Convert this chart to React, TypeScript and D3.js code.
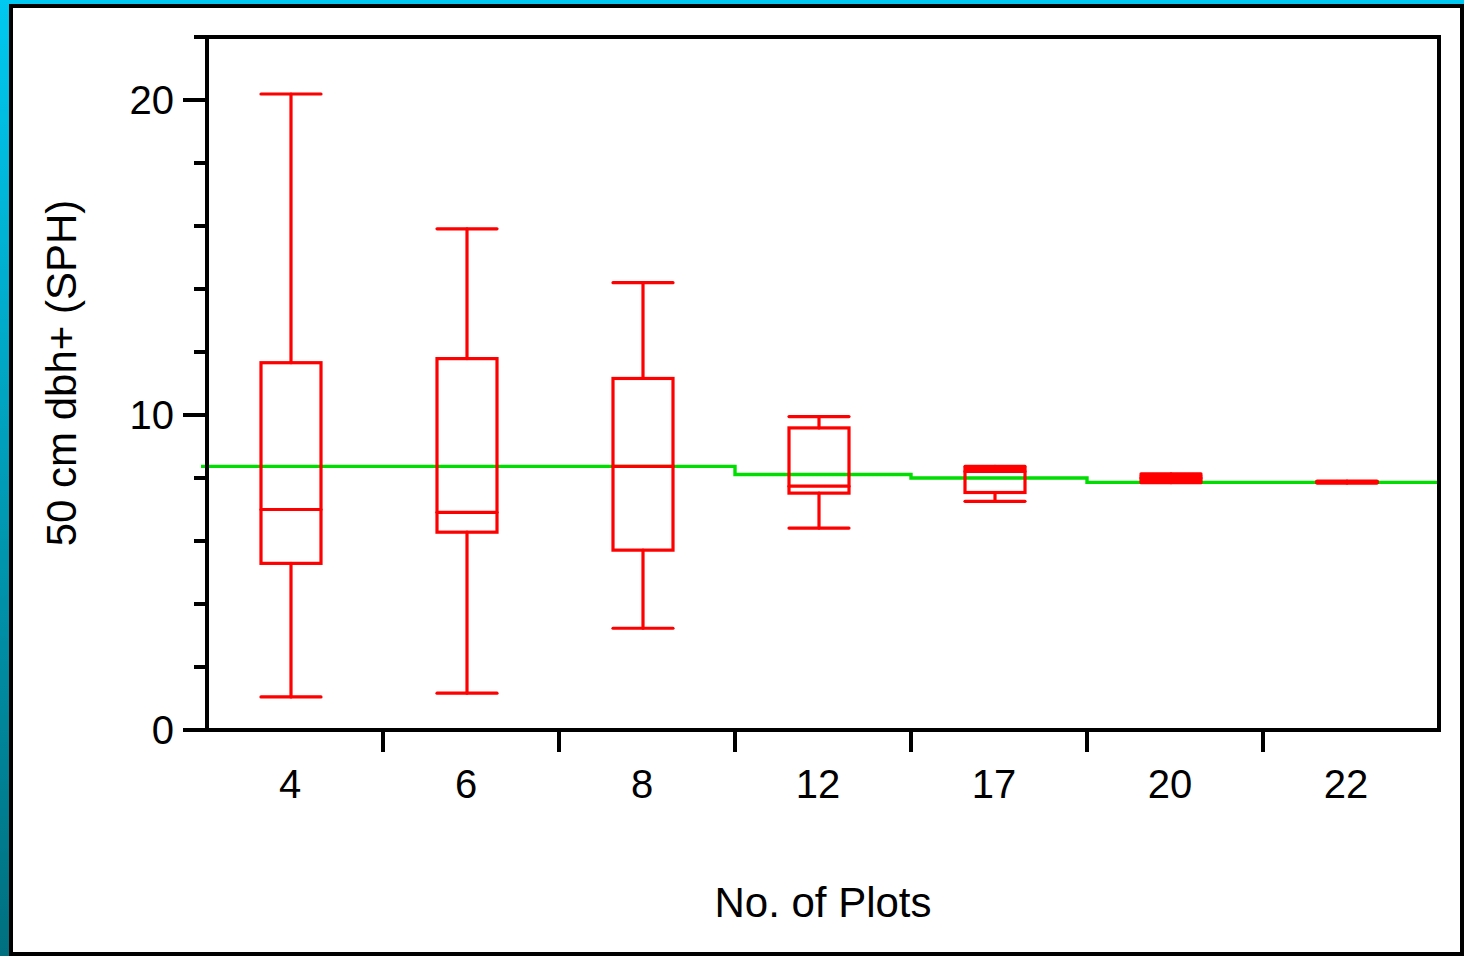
import React, { useEffect, useRef } from 'react';
import * as d3 from 'd3';

// groups on the x axis (number of plots)
const categories = ['4', '6', '8', '12', '17', '20', '22'];

// box statistics per group
const lowerWhisker = [1.05, 1.17, 3.23, 6.41, 7.26, 7.85, 7.84];
const q1Values = [5.29, 6.28, 5.71, 7.52, 7.54, 7.92, 7.86];
const medianValues = [7.0, 6.91, 8.37, 7.74, 8.21, 8.0, 7.87];
const q3Values = [11.66, 11.79, 11.16, 9.59, 8.3, 8.05, 7.88];
const upperWhisker = [20.19, 15.91, 14.2, 9.95, 8.37, 8.13, 7.9];

// green reference line (one level per group)
const meanValues = [8.37, 8.37, 8.37, 8.11, 8.0, 7.86, 7.86];

const yMajorTicks = [0, 10, 20];
const yMinorTicks = [2, 4, 6, 8, 12, 14, 16, 18, 22];

function App() {
  return (
    <div>
      <BoxChart />
    </div>
  );
}

function BoxChart() {
  const ref = useRef(null);

  useEffect(() => {
    if (!ref.current) return;
    document.body.style.margin = '0';
    const width = 1464;
    const height = 956;
    const font = 'Liberation Sans, Arial, sans-serif';

    d3.select(ref.current).select('svg').remove();
    const svg = d3.select(ref.current)
      .append('svg')
      .attr('width', width)
      .attr('height', height)
      .style('display', 'block');

    // blue frame background
    const grad = svg.append('defs').append('linearGradient')
      .attr('id', 'bg').attr('x1', 0).attr('y1', 0).attr('x2', 0).attr('y2', 1);
    grad.append('stop').attr('offset', '0%').attr('stop-color', '#00c8f0');
    grad.append('stop').attr('offset', '100%').attr('stop-color', '#00707f');
    svg.append('rect').attr('width', width).attr('height', height).attr('fill', 'url(#bg)');

    // white panel with black border
    svg.append('rect')
      .attr('x', 11).attr('y', 6).attr('width', 1451).attr('height', 948)
      .attr('fill', '#fff').attr('stroke', '#000').attr('stroke-width', 4);

    const x = d3.scaleBand().domain(categories).range([207, 1439]);
    const y = d3.scaleLinear().domain([0, 22]).range([730, 37]);
    const bw = x.bandwidth();
    const cx = (c) => x(c) + bw / 2 - 4;
    const boxW = 60;

    // green step line
    const pts = categories.map((c, i) => [x(c), y(meanValues[i])]);
    pts[0][0] = x.range()[0] - 6;
    pts.push([x.range()[1] - 2, y(meanValues[meanValues.length - 1])]);
    svg.append('path')
      .attr('d', d3.line().curve(d3.curveStepAfter)(pts))
      .attr('fill', 'none')
      .attr('stroke', '#00dd00')
      .attr('stroke-width', 3.4);

    // boxes
    const red = '#ff0000';
    categories.forEach((c, i) => {
      const g = svg.append('g')
        .attr('stroke', red).attr('stroke-width', 3.2).attr('fill', 'none')
        .attr('stroke-linecap', 'round');
      const xc = cx(c);
      // whiskers
      g.append('line').attr('x1', xc).attr('x2', xc)
        .attr('y1', y(q3Values[i])).attr('y2', y(upperWhisker[i]));
      g.append('line').attr('x1', xc).attr('x2', xc)
        .attr('y1', y(q1Values[i])).attr('y2', y(lowerWhisker[i]));
      // caps
      [upperWhisker[i], lowerWhisker[i]].forEach(v => {
        g.append('line').attr('x1', xc - boxW / 2).attr('x2', xc + boxW / 2)
          .attr('y1', y(v)).attr('y2', y(v));
      });
      // box
      g.append('rect')
        .attr('x', xc - boxW / 2).attr('width', boxW)
        .attr('y', y(q3Values[i]))
        .attr('height', Math.max(0.5, y(q1Values[i]) - y(q3Values[i])))
        .attr('stroke-linecap', 'butt');
      // median
      g.append('line').attr('x1', xc - boxW / 2).attr('x2', xc + boxW / 2)
        .attr('y1', y(medianValues[i])).attr('y2', y(medianValues[i]));
    });

    // frame / axes
    const axis = svg.append('g').attr('stroke', '#000').attr('stroke-width', 4);
    const [x0, x1] = x.range();
    const [yb, yt] = y.range();
    axis.append('line').attr('x1', x0).attr('x2', x0).attr('y1', yt).attr('y2', yb + 2);
    axis.append('line').attr('x1', x1).attr('x2', x1).attr('y1', yt - 2).attr('y2', yb + 2);
    axis.append('line').attr('x1', x0).attr('x2', x1 + 2).attr('y1', yt).attr('y2', yt);
    axis.append('line').attr('x1', x0).attr('x2', x1 + 2).attr('y1', yb).attr('y2', yb);

    yMajorTicks.forEach(v => {
      axis.append('line').attr('x1', x0 - 24).attr('x2', x0).attr('y1', y(v)).attr('y2', y(v));
    });
    yMinorTicks.forEach(v => {
      axis.append('line').attr('x1', x0 - 13).attr('x2', x0).attr('y1', y(v)).attr('y2', y(v));
    });
    categories.slice(1).forEach(c => {
      axis.append('line').attr('x1', x(c)).attr('x2', x(c)).attr('y1', yb).attr('y2', yb + 22);
    });

    // tick labels
    yMajorTicks.forEach(v => {
      svg.append('text')
        .attr('x', 174).attr('y', y(v) + 14)
        .attr('text-anchor', 'end')
        .attr('font-family', font).attr('font-size', 40)
        .text(v);
    });
    categories.forEach(c => {
      svg.append('text')
        .attr('x', cx(c) - 1).attr('y', 798)
        .attr('text-anchor', 'middle')
        .attr('font-family', font).attr('font-size', 40)
        .text(c);
    });

    // axis titles
    svg.append('text')
      .attr('x', 823).attr('y', 917)
      .attr('text-anchor', 'middle')
      .attr('font-family', font).attr('font-size', 42)
      .text('No. of Plots');
    svg.append('text')
      .attr('transform', 'translate(76,373) rotate(-90)')
      .attr('text-anchor', 'middle')
      .attr('font-family', font).attr('font-size', 42)
      .text('50 cm dbh+ (SPH)');
  }, []);

  return <div ref={ref} />;
}

export default App;
